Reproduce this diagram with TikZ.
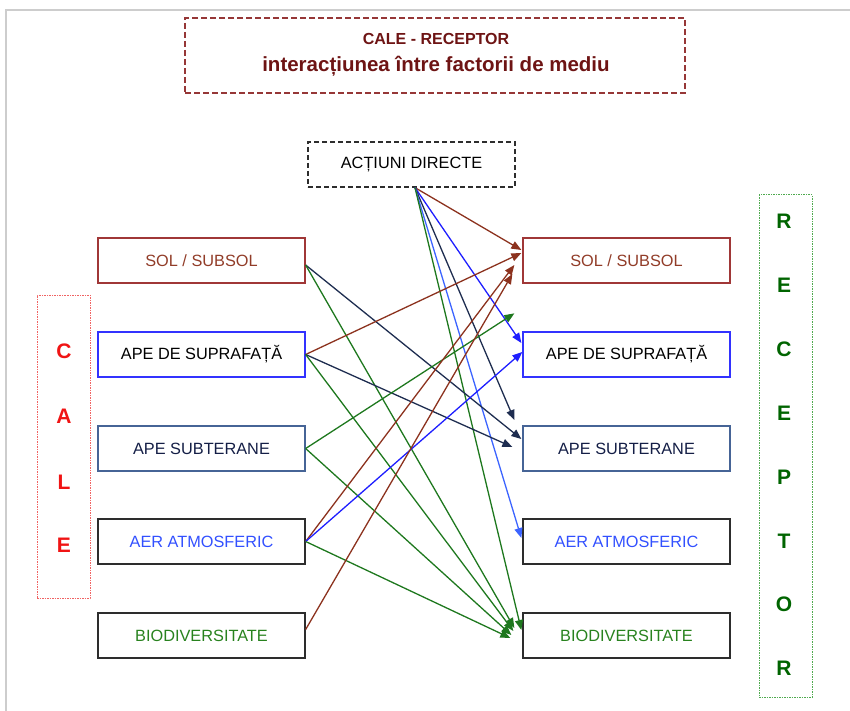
\documentclass[tikz,border=0pt]{standalone}
\usepackage{fontspec}
\setmainfont{Liberation Sans}
\usetikzlibrary{arrows.meta}
\definecolor{titletxt}{RGB}{110,20,20}
\definecolor{titlebrd}{RGB}{150,55,55}
\definecolor{solbrd}{RGB}{160,55,55}
\definecolor{soltxt}{RGB}{145,60,40}
\definecolor{supbrd}{RGB}{50,50,255}
\definecolor{subbrd}{RGB}{70,100,150}
\definecolor{subtxt}{RGB}{20,30,70}
\definecolor{aertxt}{RGB}{50,80,255}
\definecolor{biotxt}{RGB}{40,130,30}
\definecolor{darkbrd}{RGB}{45,45,45}
\definecolor{abrown}{RGB}{140,50,30}
\definecolor{anavy}{RGB}{30,45,80}
\definecolor{agreen}{RGB}{30,120,30}
\definecolor{ablue}{RGB}{30,30,255}
\definecolor{alblue}{RGB}{60,100,255}
\definecolor{calebrd}{RGB}{240,100,100}
\definecolor{caletxt}{RGB}{240,20,20}
\definecolor{recbrd}{RGB}{80,170,80}
\definecolor{rectxt}{RGB}{0,100,0}
\definecolor{framegray}{RGB}{205,205,205}
\begin{document}
\begin{tikzpicture}[x=1pt,y=-1pt,
  box/.style={draw, rectangle, minimum width=207pt, minimum height=45pt, inner sep=0pt, line width=1.3pt, font=\fontsize{16.3}{19}\selectfont},
  arr/.style={-{Triangle[length=10pt,width=8pt]}, line width=1.3pt},
  vletter/.style={font=\fontsize{21}{24}\selectfont\bfseries, inner sep=0pt}]
\useasboundingbox (0,0) rectangle (850,711);
% page frame
\draw[framegray, line width=1.2pt] (6,711) -- (6,10) -- (850,10);
% title
\node[draw=titlebrd, dashed, dash pattern=on 6pt off 3pt, line width=1.4pt, minimum width=500pt, minimum height=75pt, inner sep=0pt] (title) at (435,55.5) {};
\node[anchor=base, text=titletxt, font=\fontsize{16}{19}\selectfont\bfseries, inner sep=0pt] (t1) at (436,45) {CALE - RECEPTOR};
\node[anchor=base, text=titletxt, font=\fontsize{20.5}{24}\selectfont\bfseries, inner sep=0pt] (t2) at (436,72) {interacțiunea între factorii de mediu};
% actiuni directe
\node[box, draw=darkbrd, dashed, dash pattern=on 5pt off 3pt, text=black] (act) at (411.5,164.5) {ACȚIUNI DIRECTE};
% left boxes
\node[box, draw=solbrd, text=soltxt] (lsol) at (201.5,260.5) {SOL / SUBSOL};
\node[box, draw=supbrd, text=black] (lsup) at (201.5,354.5) {APE DE SUPRAFAȚĂ};
\node[box, draw=subbrd, text=subtxt] (lsub) at (201.5,448.5) {APE SUBTERANE};
\node[box, draw=darkbrd, text=aertxt] (laer) at (201.5,541.5) {AER ATMOSFERIC};
\node[box, draw=darkbrd, text=biotxt] (lbio) at (201.5,635.5) {BIODIVERSITATE};
% right boxes
\node[box, draw=solbrd, text=soltxt] (rsol) at (626.5,260.5) {SOL / SUBSOL};
\node[box, draw=supbrd, text=black] (rsup) at (626.5,354.5) {APE DE SUPRAFAȚĂ};
\node[box, draw=subbrd, text=subtxt] (rsub) at (626.5,448.5) {APE SUBTERANE};
\node[box, draw=darkbrd, text=aertxt] (raer) at (626.5,541.5) {AER ATMOSFERIC};
\node[box, draw=darkbrd, text=biotxt] (rbio) at (626.5,635.5) {BIODIVERSITATE};
% CALE
\node[draw=calebrd, dash pattern=on 1.5pt off 1pt, line width=1pt, minimum width=53pt, minimum height=303pt, inner sep=0pt] (calebox) at (63.5,446.5) {};
\node[vletter, text=caletxt] (c1) at (64,351) {C};
\node[vletter, text=caletxt] (c2) at (64,416) {A};
\node[vletter, text=caletxt] (c3) at (64,482) {L};
\node[vletter, text=caletxt] (c4) at (64,545) {E};
% RECEPTOR
\node[draw=recbrd, dash pattern=on 1.5pt off 1pt, line width=1pt, minimum width=53pt, minimum height=502pt, inner sep=0pt] (recbox) at (785.5,446) {};
\node[vletter, text=rectxt] (r1) at (784,221) {R};
\node[vletter, text=rectxt] (r2) at (784,285) {E};
\node[vletter, text=rectxt] (r3) at (784,349) {C};
\node[vletter, text=rectxt] (r4) at (784,413) {E};
\node[vletter, text=rectxt] (r5) at (784,477) {P};
\node[vletter, text=rectxt] (r6) at (784,541) {T};
\node[vletter, text=rectxt] (r7) at (784,604) {O};
\node[vletter, text=rectxt] (r8) at (784,668) {R};
% arrows from ACTIUNI DIRECTE
\draw[arr, abrown] ([xshift=3.5pt]act.south) -- ([xshift=-1pt,yshift=10.5pt]rsol.west);
\draw[arr, ablue] ([xshift=3.5pt]act.south) -- ([xshift=-1pt,yshift=11.5pt]rsup.west);
\draw[arr, anavy] ([xshift=3.5pt]act.south) -- ([xshift=-8pt,yshift=28.5pt]rsub.west);
\draw[arr, alblue] ([xshift=3.5pt]act.south) -- ([xshift=-1pt,yshift=3.5pt]raer.west);
\draw[arr, agreen] ([xshift=3.5pt]act.south) -- ([xshift=-1pt,yshift=5.5pt]rbio.west);
% from SOL / SUBSOL
\draw[arr, anavy] ([yshift=-4.5pt]lsol.east) -- ([xshift=-1pt,yshift=9.5pt]rsub.west);
\draw[arr, agreen] ([yshift=-4.5pt]lsol.east) -- ([xshift=-8pt,yshift=7.5pt]rbio.west);
% from APE DE SUPRAFATA
\draw[arr, abrown] (lsup.east) -- ([xshift=-1pt,yshift=7.5pt]rsol.west);
\draw[arr, anavy] (lsup.east) -- ([xshift=-10pt,yshift=1.5pt]rsub.west);
\draw[arr, agreen] (lsup.east) -- ([xshift=-9pt,yshift=4.5pt]rbio.west);
% from APE SUBTERANE
\draw[arr, agreen] (lsub.east) -- ([xshift=-8pt,yshift=18pt]rsup.north west);
\draw[arr, agreen] (lsub.east) -- ([xshift=-11pt,yshift=0.5pt]rbio.west);
% from AER ATMOSFERIC
\draw[arr, abrown] (laer.east) -- ([xshift=-8pt,yshift=-4.5pt]rsol.west);
\draw[arr, ablue] (laer.east) -- ([xshift=0pt,yshift=2.5pt]rsup.west);
\draw[arr, agreen] (laer.east) -- ([xshift=-12pt,yshift=-2.5pt]rbio.west);
% from BIODIVERSITATE
\draw[arr, abrown] ([yshift=6pt]lbio.east) -- ([xshift=-10pt,yshift=-13.5pt]rsol.west);
\end{tikzpicture}
\end{document}
